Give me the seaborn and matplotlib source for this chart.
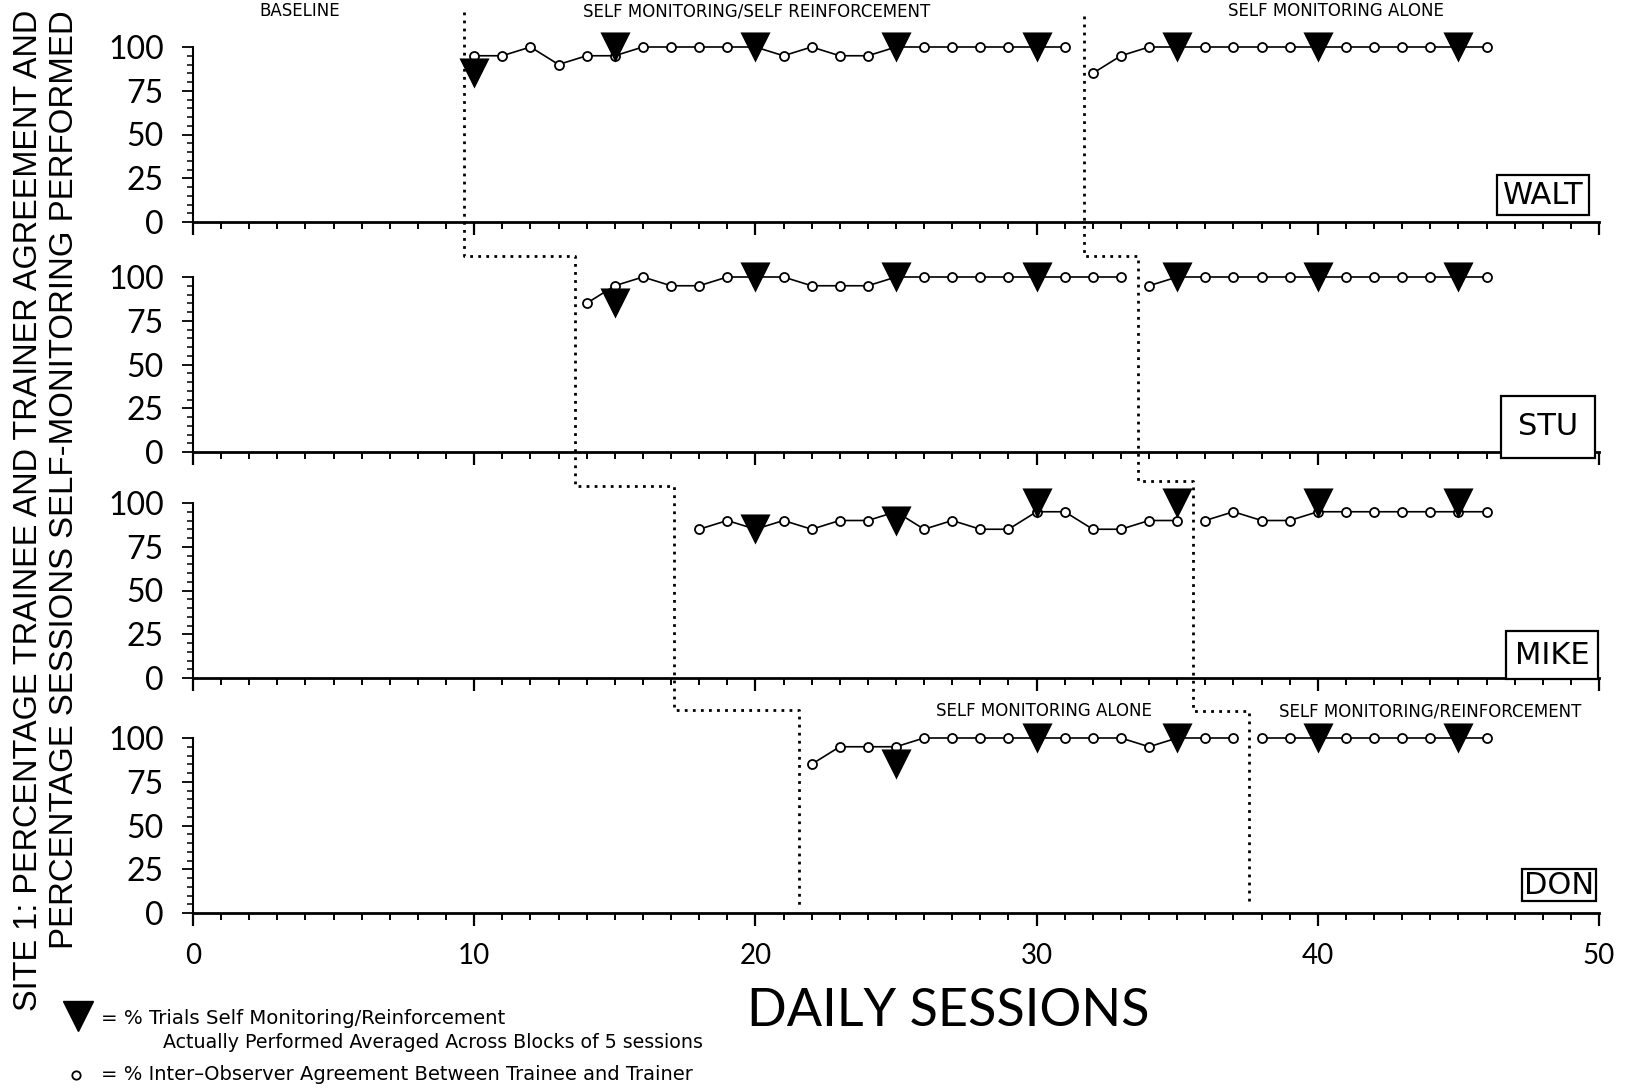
import numpy as np
import pandas as pd
import matplotlib
matplotlib.use("Agg")
import matplotlib.pyplot as plt
import matplotlib.transforms as mtrans
from matplotlib import font_manager
from matplotlib.lines import Line2D
from matplotlib.ticker import MultipleLocator
import seaborn as sns

# ---------------- data ----------------
names = ["WALT", "STU", "MIKE", "DON"]

walt_sessions = [10, 11, 12, 13, 14, 15, 16, 17, 18, 19, 20, 21, 22, 23, 24, 25, 26, 27, 28, 29, 30, 31,
                 32, 33, 34, 35, 36, 37, 38, 39, 40, 41, 42, 43, 44, 45, 46]
walt_agree = [95, 95, 100, 90, 95, 95, 100, 100, 100, 100, 100, 95, 100, 95, 95, 100, 100, 100, 100, 100, 100, 100,
              85, 95, 100, 100, 100, 100, 100, 100, 100, 100, 100, 100, 100, 100, 100]
walt_phase = [1] * 22 + [2] * 15
walt_tri_s = [10, 15, 20, 25, 30, 35, 40, 45]
walt_tri_v = [85, 100, 100, 100, 100, 100, 100, 100]

stu_sessions = [14, 15, 16, 17, 18, 19, 20, 21, 22, 23, 24, 25, 26, 27, 28, 29, 30, 31, 32, 33,
                34, 35, 36, 37, 38, 39, 40, 41, 42, 43, 44, 45, 46]
stu_agree = [85, 95, 100, 95, 95, 100, 100, 100, 95, 95, 95, 100, 100, 100, 100, 100, 100, 100, 100, 100,
             95, 100, 100, 100, 100, 100, 100, 100, 100, 100, 100, 100, 100]
stu_phase = [1] * 20 + [2] * 13
stu_tri_s = [15, 20, 25, 30, 35, 40, 45]
stu_tri_v = [85, 100, 100, 100, 100, 100, 100]

mike_sessions = [18, 19, 20, 21, 22, 23, 24, 25, 26, 27, 28, 29, 30, 31, 32, 33, 34, 35,
                 36, 37, 38, 39, 40, 41, 42, 43, 44, 45, 46]
mike_agree = [85, 90, 85, 90, 85, 90, 90, 95, 85, 90, 85, 85, 95, 95, 85, 85, 90, 90,
              90, 95, 90, 90, 95, 95, 95, 95, 95, 95, 95]
mike_phase = [1] * 18 + [2] * 11
mike_tri_s = [20, 25, 30, 35, 40, 45]
mike_tri_v = [85, 90, 100, 100, 100, 100]

don_sessions = [22, 23, 24, 25, 26, 27, 28, 29, 30, 31, 32, 33, 34, 35, 36, 37,
                38, 39, 40, 41, 42, 43, 44, 45, 46]
don_agree = [85, 95, 95, 95, 100, 100, 100, 100, 100, 100, 100, 100, 95, 100, 100, 100,
             100, 100, 100, 100, 100, 100, 100, 100, 100]
don_phase = [1] * 16 + [2] * 9
don_tri_s = [25, 30, 35, 40, 45]
don_tri_v = [85, 100, 100, 100, 100]

# phase-change session positions (upper staircase = first change, lower = second change)
change1 = [9.63, 13.57, 17.1, 21.56]
change2 = [31.7, 33.6, 35.56, 37.55]

top_labels = ["BASELINE", "SELF MONITORING/SELF REINFORCEMENT", "SELF MONITORING ALONE"]
don_labels = ["SELF MONITORING ALONE", "SELF MONITORING/REINFORCEMENT"]
ylabel1 = "SITE 1: PERCENTAGE TRAINEE AND TRAINER AGREEMENT AND"
ylabel2 = "PERCENTAGE SESSIONS SELF-MONITORING PERFORMED"
xlabel = "DAILY SESSIONS"
legend1a = "= % Trials Self Monitoring/Reinforcement"
legend1b = "Actually Performed Averaged Across Blocks of 5 sessions"
legend2 = "= % Inter\u2013Observer Agreement Between Trainee and Trainer"

panel_data = [
    (walt_sessions, walt_agree, walt_phase, walt_tri_s, walt_tri_v),
    (stu_sessions, stu_agree, stu_phase, stu_tri_s, stu_tri_v),
    (mike_sessions, mike_agree, mike_phase, mike_tri_s, mike_tri_v),
    (don_sessions, don_agree, don_phase, don_tri_s, don_tri_v),
]

# ---------------- style ----------------
sns.set_theme(style="white")
avail = {f.name for f in font_manager.fontManager.ttflist}
MAIN = "Lato" if "Lato" in avail else "DejaVu Sans"
NARROW = "Liberation Sans Narrow" if "Liberation Sans Narrow" in avail else "Liberation Sans"
plt.rcParams["font.family"] = [MAIN, "DejaVu Sans"]
plt.rcParams["text.color"] = "black"
plt.rcParams["axes.edgecolor"] = "black"
plt.rcParams["xtick.color"] = "black"
plt.rcParams["ytick.color"] = "black"
plt.rcParams["xtick.labelcolor"] = "black"
plt.rcParams["ytick.labelcolor"] = "black"

W, H = 1633, 1091
fig = plt.figure(figsize=(W / 100, H / 100), dpi=100)
fig.patch.set_facecolor("white")

L_PX, R_PX = 193, 1599
Y0_PX = [222, 452, 678, 913]
H100 = 175

axes = []
for i, (sess, agree, phase, ts, tv) in enumerate(panel_data):
    y0 = Y0_PX[i]
    ax = fig.add_axes([L_PX / W, 1 - y0 / H, (R_PX - L_PX) / W, H100 / H])
    ax.patch.set_alpha(0)
    df = pd.DataFrame({"session": sess, "pct": agree, "phase": phase})
    sns.lineplot(data=df, x="session", y="pct", units="phase", estimator=None,
                 color="black", lw=1.2, marker="o", markersize=6.5,
                 markerfacecolor="white", markeredgecolor="black", markeredgewidth=1.3,
                 ax=ax, legend=False, clip_on=False, zorder=3)
    sns.scatterplot(x=ts, y=tv, marker="v", s=470, color="black", edgecolor="black",
                    linewidth=0, ax=ax, zorder=5, clip_on=False, legend=False)
    ax.set_xlim(0, 50)
    ax.set_ylim(0, 100)
    ax.set_xlabel("")
    ax.set_ylabel("")
    for s in ["top", "right"]:
        ax.spines[s].set_visible(False)
    ax.spines["bottom"].set_linewidth(2.0)
    ax.spines["left"].set_linewidth(1.5)
    ax.xaxis.set_major_locator(MultipleLocator(10))
    ax.xaxis.set_minor_locator(MultipleLocator(1))
    ax.yaxis.set_major_locator(MultipleLocator(25))
    ax.yaxis.set_minor_locator(MultipleLocator(5))
    ax.tick_params(axis="x", which="major", direction="out", length=9.5, width=1.6,
                   labelsize=20, pad=12, bottom=True)
    ax.tick_params(axis="x", which="minor", direction="out", length=5, width=1.4, bottom=True)
    ax.tick_params(axis="y", which="major", direction="out", length=8, width=1.3,
                   labelsize=23, pad=13, left=True)
    ax.tick_params(axis="y", which="minor", direction="out", length=4, width=1.1, left=True)
    ax.set_yticks([0, 25, 50, 75, 100])
    ax.set_yticklabels(["0", "25", "50", "75", "100"], fontweight="normal", color="black")
    if i < 3:
        ax.tick_params(axis="x", which="both", labelbottom=False)
    else:
        ax.set_xticks([0, 10, 20, 30, 40, 50])
        ax.set_xticklabels(["0", "10", "20", "30", "40", "50"], fontweight="normal", color="black")
    ax.grid(False)
    axes.append(ax)

# name boxes
box_centers = [(1543, 195), (1548, 427), (1552, 655), (1559, 885)]
box_pads = [0.18, 0.55, 0.3, 0.05]
for name, (cx, cy), pd_ in zip(names, box_centers, box_pads):
    fig.text(cx / W, 1 - cy / H, name, ha="center", va="center", fontsize=22,
             family=["DejaVu Sans"],
             bbox=dict(boxstyle=f"square,pad={pd_}", fc="white", ec="black", lw=1.6))

# phase change staircases (x in session units, y in figure pixels)
trans = mtrans.blended_transform_factory(axes[0].transData, fig.transFigure)


def staircase(xs, tops, bottoms):
    px, py = [], []
    for k, x in enumerate(xs):
        px += [x, x]
        py += [tops[k], bottoms[k]]
    fig.add_artist(Line2D(px, [1 - v / H for v in py], transform=trans, color="black",
                          lw=2.0, ls=(0, (1.0, 1.9)), zorder=10))


staircase(change1, [12, 256, 486, 710], [256, 486, 710, 906])
staircase(change2, [16, 256, 481, 711], [256, 481, 711, 906])

# top phase labels
for txt, cx in zip(top_labels, [300, 757, 1336]):
    fig.text(cx / W, 1 - 11 / H, txt, ha="center", va="center", fontsize=12,
             family=["DejaVu Sans"])
for txt, cx in zip(don_labels, [1044, 1430]):
    fig.text(cx / W, 1 - 711 / H, txt, ha="center", va="center", fontsize=12,
             family=["DejaVu Sans"])

renderer = fig.canvas.get_renderer()


def fit(t, target, vertical=False):
    bb = t.get_window_extent(renderer)
    cur = bb.height if vertical else bb.width
    t.set_fontsize(t.get_fontsize() * target / cur)


# x label
xl = fig.text(948 / W, 1 - 1012 / H, xlabel, ha="center", va="center", fontsize=36,
              fontweight="normal")
fit(xl, 403)

# y labels
yl1 = fig.text(29 / W, 1 - 10 / H, ylabel1, rotation=90, rotation_mode="anchor",
               ha="right", va="center", fontsize=24, family=[NARROW, "DejaVu Sans"])
yl2 = fig.text(65 / W, 1 - 10 / H, ylabel2, rotation=90, rotation_mode="anchor",
               ha="right", va="center", fontsize=24, family=[NARROW, "DejaVu Sans"])
fit(yl1, 1005, vertical=True)
fit(yl2, 942, vertical=True)

# legend
lg1 = fig.text(101 / W, 1 - 1018 / H, legend1a, ha="left", va="center", fontsize=13,
               family=["DejaVu Sans"])
lg2 = fig.text(163 / W, 1 - 1043 / H, legend1b, ha="left", va="center", fontsize=13,
               family=["DejaVu Sans"])
lg3 = fig.text(101 / W, 1 - 1075 / H, legend2, ha="left", va="center", fontsize=13,
               family=["DejaVu Sans"])
fit(lg1, 406)
fit(lg2, 540)
fit(lg3, 593)
fig.add_artist(Line2D([78 / W], [1 - 1016 / H], marker="v", ms=21, color="black",
                      ls="none", transform=fig.transFigure))
fig.add_artist(Line2D([76 / W], [1 - 1075 / H], marker="o", ms=6, mfc="white", mec="black",
                      mew=1.3, ls="none", transform=fig.transFigure))

fig.savefig("out.png", dpi=100, facecolor="white")
